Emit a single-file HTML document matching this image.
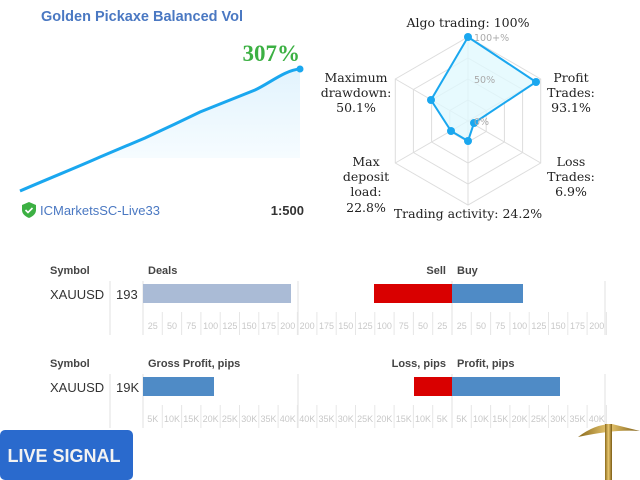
<!DOCTYPE html>
<html><head><meta charset="utf-8"><style>
body{margin:0;width:640px;height:480px;overflow:hidden;background:#fff;font-family:"Liberation Sans",sans-serif}
svg{position:absolute;left:0;top:0}
</style></head><body>
<svg id="s" width="640" height="480" viewBox="0 0 640 480" xmlns="http://www.w3.org/2000/svg">
<defs>
<linearGradient id="g" x1="0" y1="0" x2="0" y2="1"><stop offset="0" stop-color="#e2f3fd"/><stop offset="1" stop-color="#f6fcff"/></linearGradient>
<linearGradient id="gold" x1="0" y1="0" x2="1" y2="0"><stop offset="0" stop-color="#8a6a1c"/><stop offset="0.5" stop-color="#e9c870"/><stop offset="1" stop-color="#7a5a12"/></linearGradient>
</defs>
<text x="41" y="21" font-size="14.5" font-weight="bold" fill="#4a78c2">Golden Pickaxe Balanced Vol</text>
<path d="M100,157 L145,138 L175,124 L200,112 L230,100 L255,90 L280,76 L300,69 L300,158 L100,158Z" fill="url(#g)"/>
<path d="M20,191 C50,178 80,166 100,157 L145,138 L175,124 L200,112 L230,100 L255,90 C270,83 285,70 300,69" fill="none" stroke="#1aa7ef" stroke-width="3"/>
<circle cx="300" cy="69" r="3.5" fill="#1aa7ef"/>
<text x="300" y="61" font-size="23" font-weight="bold" fill="#3cb043" text-anchor="end" font-family="Liberation Serif,serif">307%</text>
<path d="M22,205 l7,-3 l7,3 v5 q0,5 -7,8 q-7,-3 -7,-8z" fill="#3cb043"/>
<path d="M25.5,210 l2.5,2.5 l4.5,-4.5" stroke="#fff" stroke-width="1.6" fill="none"/>
<text x="40" y="215" font-size="13" fill="#4a78c2">ICMarketsSC-Live33</text>
<text x="304" y="215" font-size="13" font-weight="bold" fill="#333" text-anchor="end">1:500</text>

<g id="radar" fill="none" stroke="#ddd" stroke-width="1"></g>
<polygon points="468,37 536,82 474,123 468,141 451,131 431,100" fill="#dff8fd" fill-opacity="0.75" stroke="#1aa7ef" stroke-width="2"/>
<g fill="#1aa7ef"><circle cx="468" cy="37" r="4"/><circle cx="536" cy="82" r="4"/><circle cx="474" cy="123" r="4"/><circle cx="468" cy="141" r="4"/><circle cx="451" cy="131" r="4"/><circle cx="431" cy="100" r="4"/></g>
<g font-size="9.5" fill="#aaa" font-family="DejaVu Sans,sans-serif"><text x="474" y="41">100+%</text><text x="474" y="83">50%</text><text x="474" y="125">0%</text></g>
<g font-family="DejaVu Serif,Liberation Serif,serif" font-size="12.5" fill="#222">
<text x="468" y="27" text-anchor="middle">Algo trading: 100%</text>
<text x="571" y="82" text-anchor="middle">Profit</text><text x="571" y="97" text-anchor="middle">Trades:</text><text x="571" y="112" text-anchor="middle">93.1%</text>
<text x="571" y="166" text-anchor="middle">Loss</text><text x="571" y="181" text-anchor="middle">Trades:</text><text x="571" y="196" text-anchor="middle">6.9%</text>
<text x="468" y="218" text-anchor="middle">Trading activity: 24.2%</text>
<text x="366" y="166" text-anchor="middle">Max</text><text x="366" y="181" text-anchor="middle">deposit</text><text x="366" y="196" text-anchor="middle">load:</text><text x="366" y="212" text-anchor="middle">22.8%</text>
<text x="356" y="82" text-anchor="middle">Maximum</text><text x="356" y="97" text-anchor="middle">drawdown:</text><text x="356" y="112" text-anchor="middle">50.1%</text>
</g>

<g id="t1"></g><g id="t2"></g>

<rect x="0" y="430" width="133" height="50" rx="5" fill="#2a6acd"/>
<text x="64" y="462" font-size="18" font-weight="bold" fill="#f2f2f2" text-anchor="middle">LIVE SIGNAL</text>
<path d="M578,437 Q595,424 612,424 L640,431 Q615,429 578,437Z" fill="url(#gold)"/>
<rect x="605" y="424" width="7" height="56" fill="url(#gold)"/>
</svg>
<script>
var ns="http://www.w3.org/2000/svg",s=document.getElementById('s');
function el(p,t,a,txt){var e=document.createElementNS(ns,t);for(var k in a)e.setAttribute(k,a[k]);if(txt)e.textContent=txt;p.appendChild(e);return e;}
var r=document.getElementById('radar'),cx=468,cy=121;
for(var f=1;f<=4;f++){var R=84*f/4,pts=[];for(var i=0;i<6;i++){var a=-Math.PI/2+i*Math.PI/3;pts.push((cx+R*Math.cos(a)).toFixed(1)+','+(cy+R*Math.sin(a)).toFixed(1));}el(r,'polygon',{points:pts.join(' ')});}
for(var i=0;i<6;i++){var a=-Math.PI/2+i*Math.PI/3;el(r,'line',{x1:cx,y1:cy,x2:cx+84*Math.cos(a),y2:cy+84*Math.sin(a)});}
function table(g,oy,h1,val,h2,h3,lab,b1,bl,br,c1){
 el(g,'text',{x:50,y:oy+274,'font-size':11,'font-weight':'bold',fill:'#444'},'Symbol');
 el(g,'text',{x:148,y:oy+274,'font-size':11,'font-weight':'bold',fill:'#444'},h1);
 el(g,'text',{x:446,y:oy+274,'font-size':11,'font-weight':'bold',fill:'#444','text-anchor':'end'},h2);
 el(g,'text',{x:457,y:oy+274,'font-size':11,'font-weight':'bold',fill:'#444'},h3);
 el(g,'text',{x:50,y:oy+299,'font-size':13,fill:'#333'},'XAUUSD');
 el(g,'text',{x:116,y:oy+299,'font-size':13,fill:'#333'},val);
 [110,143,298,452,605].forEach(function(x){el(g,'line',{x1:x,y1:oy+281,x2:x,y2:oy+335,stroke:'#e2e2e2'});});
 el(g,'rect',{x:143,y:oy+284,width:b1,height:19,fill:c1});
 el(g,'rect',{x:452-bl,y:oy+284,width:bl,height:19,fill:'#d90000'});
 el(g,'rect',{x:452,y:oy+284,width:br,height:19,fill:'#4f8bc6'});
 for(var i=1;i<=8;i++){var d=i*19.3;
  [[143+d,-1],[452-d,1],[452+d,-1]].forEach(function(p){
   el(g,'line',{x1:p[0],y1:oy+312,x2:p[0],y2:oy+335,stroke:'#e6e6e6'});
   el(g,'text',{x:p[0]+p[1]*9.6,y:oy+329,'font-size':9,fill:'#c8c8c8','text-anchor':'middle'},lab[i-1]);});}
}
table(document.getElementById('t1'),0,'Deals','193','Sell','Buy',['25','50','75','100','125','150','175','200'],148,78,71,'#aabbd6');
table(document.getElementById('t2'),93,'Gross Profit, pips','19K','Loss, pips','Profit, pips',['5K','10K','15K','20K','25K','30K','35K','40K'],71,38,108,'#4f8bc6');
</script>
</body></html>
